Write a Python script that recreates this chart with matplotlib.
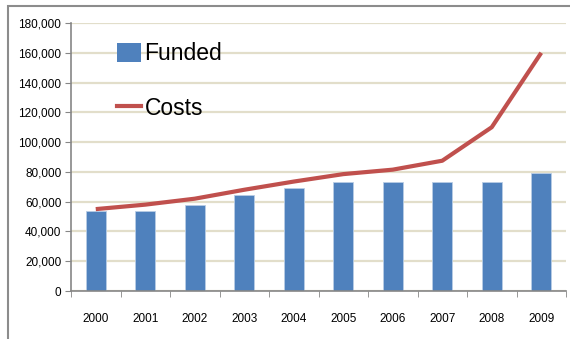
import matplotlib.pyplot as plt
import numpy as np
from matplotlib.patches import Rectangle
from matplotlib.lines import Line2D

years = ["2000", "2001", "2002", "2003", "2004", "2005", "2006", "2007", "2008", "2009"]
funded = [53500, 53500, 57500, 64500, 69500, 73500, 73500, 73500, 73500, 79000]
costs = [55000, 58000, 62000, 68000, 73500, 78500, 81500, 87500, 110000, 160000]

plt.rcParams['font.family'] = ['Liberation Sans Narrow', 'Liberation Sans', 'DejaVu Sans']

BLUE = "#4F81BD"
RED = "#C0504D"
GRID = "#E2DECA"
AXIS = "#868686"


def main():
    fig = plt.figure(figsize=(5.7, 3.39), dpi=100)

    # outer chart frame, running off the right and bottom edges
    fig.patches.append(Rectangle((8 / 570, -0.1), 1.2, 1.1 - 6 / 339,
                                 transform=fig.transFigure, fill=False,
                                 edgecolor="#8C8C8C", linewidth=1.5))

    ax = fig.add_axes([71 / 570, 48 / 339, 495 / 570, 268 / 339])
    x = np.arange(len(years))

    ax.bar(x, funded, width=0.4, color=BLUE, edgecolor="#B9CDE5",
           linewidth=0.6, zorder=2)
    ax.plot(x, costs, color=RED, linewidth=3, solid_capstyle="butt", zorder=3)

    ax.set_xlim(-0.5, len(years) - 0.5)
    ax.set_ylim(0, 180000)
    ax.set_yticks(range(0, 180001, 20000))
    ax.set_yticklabels([f"{v:,}" for v in range(0, 180001, 20000)])
    ax.set_xticks(x)
    ax.set_xticklabels(years)
    ax.set_xticks(np.arange(-0.5, len(years)), minor=True)

    ax.grid(axis="y", color=GRID, linewidth=1.6, zorder=0)
    ax.set_axisbelow(True)

    for side in ("top", "right"):
        ax.spines[side].set_visible(False)
    for side in ("left", "bottom"):
        ax.spines[side].set_color(AXIS)
        ax.spines[side].set_linewidth(1.2)

    ax.tick_params(axis="y", direction="out", length=4, color=AXIS,
                   labelsize=8.5, pad=3)
    ax.tick_params(axis="x", which="major", length=0, labelsize=8.5, pad=16)
    ax.tick_params(axis="x", which="minor", direction="out", length=4,
                   color=AXIS)

    handles = [Rectangle((0, 0), 1, 1, facecolor=BLUE),
               Line2D([], [], color=RED, linewidth=3)]
    ax.legend(handles, ["Funded", "Costs"], loc="upper left",
              bbox_to_anchor=(0.093, 0.928), frameon=False, fontsize=16.5,
              handlelength=1.05, handleheight=0.9, handletextpad=0.15,
              labelspacing=1.38, borderaxespad=0, borderpad=0)

    fig.savefig("out.png", dpi=100)


main()
